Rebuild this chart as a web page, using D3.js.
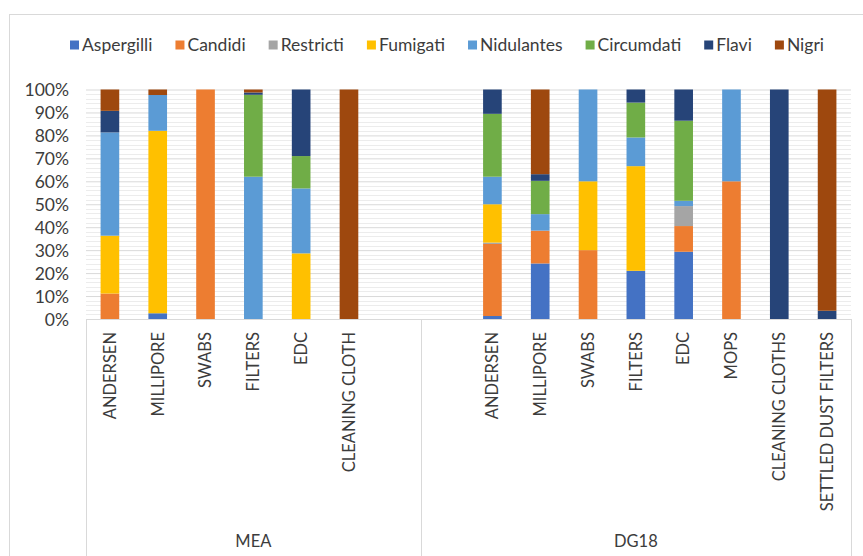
<html><head>
<script src="https://d3js.org/d3.v7.min.js"></script>
<style>
  body { margin: 0; background: #fff; }
  text { font-family: Lato, "Open Sans", sans-serif; fill: #3c3c3c; }
</style>
</head>
<body>
<svg id="chart" width="863" height="556"></svg>
<script>
// ---- data (percent of isolates per sampling method) ----
const groups = ["MEA", "DG18"];
const meaMethods = ["ANDERSEN", "MILLIPORE", "SWABS", "FILTERS", "EDC", "CLEANING CLOTH"];
const dg18Methods = ["ANDERSEN", "MILLIPORE", "SWABS", "FILTERS", "EDC", "MOPS", "CLEANING CLOTHS", "SETTLED DUST FILTERS"];
const sections = ["Aspergilli", "Candidi", "Restricti", "Fumigati", "Nidulantes", "Circumdati", "Flavi", "Nigri"];
const sectionColors = ["#4472C4", "#ED7D31", "#A5A5A5", "#FFC000", "#5B9BD5", "#70AD47", "#264478", "#9E480E"];
const yTicks = [0, 10, 20, 30, 40, 50, 60, 70, 80, 90, 100];

// one value per method: 6 MEA then 8 DG18
const aspergilli = [0, 2.5, 0, 0, 0, 0,      1.3, 24.2, 0, 21, 29.3, 0, 0, 0];
const candidi    = [11.1, 0, 100, 0, 0, 0,   31.4, 14.3, 30, 0, 11.2, 60, 0, 0];
const restricti  = [0, 0, 0, 0, 0, 0,        0.6, 0, 0, 0, 8.7, 0, 0, 0];
const fumigati   = [25.2, 79.5, 0, 0, 28.6, 0, 16.7, 0, 30, 45.6, 0, 0, 0, 0];
const nidulantes = [45, 15.6, 0, 62, 28.3, 0, 12, 7.2, 40, 12.5, 2.3, 40, 0, 0];
const circumdati = [0, 0, 0, 35.7, 14.1, 0,  27.4, 14.5, 0, 15.2, 34.9, 0, 0, 0];
const flavi      = [9.4, 0, 0, 1, 29, 0,     10.6, 2.9, 0, 5.7, 13.6, 0, 100, 3.6];
const nigri      = [9.3, 2.4, 0, 1.3, 0, 100, 0, 36.9, 0, 0, 0, 0, 0, 96.4];
const seriesValues = [aspergilli, candidi, restricti, fumigati, nidulantes, circumdati, flavi, nigri];

// Build rows; Excel leaves an empty slot at the end of MEA and start of DG18
const rows = [];
meaMethods.forEach((m, i) => rows.push({ key: "MEA|" + m, group: "MEA", method: m, idx: i }));
const dgOffset = meaMethods.length;
dg18Methods.forEach((m, i) => rows.push({ key: "DG18|" + m, group: "DG18", method: m, idx: dgOffset + i }));
rows.forEach(r => sections.forEach((s, j) => r[s] = seriesValues[j][r.idx]));

const domain = meaMethods.map(m => "MEA|" + m).concat(["MEA|_blank", "DG18|_blank"], dg18Methods.map(m => "DG18|" + m));

const svg = d3.select("#chart");
const margin = { top: 89.5, left: 86, right: 12, bottom: 237 };
const plotLeft = margin.left, plotRight = 863 - margin.right;
const plotTop = margin.top, plotBottom = 556 - margin.bottom;

// chart-area border
svg.append("rect").attr("x", 9.5).attr("y", 14.5).attr("width", 870).attr("height", 600)
   .attr("fill", "none").attr("stroke", "#d9d9d9");

const x = d3.scaleBand().domain(domain).range([plotLeft, plotRight]).paddingInner(0.61).paddingOuter(0.305);
const y = d3.scaleLinear().domain([0, 100]).range([plotBottom, plotTop]);
const color = d3.scaleOrdinal().domain(sections).range(sectionColors);

// minor gridlines
svg.append("g").selectAll("line").data(d3.range(0, 101, 2).filter(v => v % 10 !== 0))
  .join("line")
  .attr("x1", plotLeft).attr("x2", plotRight)
  .attr("y1", d => Math.round(y(d)) + 0.5).attr("y2", d => Math.round(y(d)) + 0.5)
  .attr("stroke", "#ececec");

// major gridlines + y labels via axis
const yAxis = d3.axisLeft(y).tickValues(yTicks).tickFormat(d => d + "%").tickSize(-(plotRight - plotLeft)).tickPadding(17);
const yg = svg.append("g").attr("transform", "translate(" + plotLeft + ",0)").call(yAxis);
yg.select(".domain").remove();
yg.selectAll(".tick line").attr("stroke", "#d9d9d9");
yg.selectAll(".tick text").style("font-size", "17.5px").style("fill", "#3c3c3c").attr("dy", "0.35em");

// stacked bars
const stacked = d3.stack().keys(sections)(rows);
svg.append("g").selectAll("g").data(stacked).join("g")
  .attr("fill", d => color(d.key))
  .selectAll("rect").data(d => d).join("rect")
  .attr("x", d => x(d.data.key))
  .attr("width", x.bandwidth())
  .attr("y", d => y(d[1]))
  .attr("height", d => y(d[0]) - y(d[1]));

// horizontal category axis line
svg.append("line").attr("x1", plotLeft).attr("x2", plotRight)
   .attr("y1", plotBottom + 0.5).attr("y2", plotBottom + 0.5).attr("stroke", "#d9d9d9");

// group separators (left edge, between groups, right edge)
const step = x.step();
const sepX = [plotLeft, plotLeft + step * (meaMethods.length + 1), plotRight];
svg.append("g").selectAll("line").data(sepX).join("line")
  .attr("x1", d => Math.round(d) + 0.5).attr("x2", d => Math.round(d) + 0.5)
  .attr("y1", plotBottom).attr("y2", 556)
  .attr("stroke", "#d9d9d9");

// rotated method labels
svg.append("g").selectAll("text").data(rows).join("text")
  .attr("transform", d => "translate(" + (x(d.key) + x.bandwidth() / 2) + "," + (plotBottom + 13) + ") rotate(-90)")
  .attr("text-anchor", "end")
  .attr("dy", "0.35em")
  .style("font-size", "16.5px")
  .text(d => d.method);

// group labels
svg.append("g").selectAll("text").data(groups).join("text")
  .attr("x", (d, i) => (sepX[i] + sepX[i + 1]) / 2)
  .attr("y", 541)
  .attr("text-anchor", "middle")
  .attr("dy", "0.35em")
  .style("font-size", "16.5px")
  .text(d => d);

// legend, spread across the top like Excel does
const legend = svg.append("g");
const items = legend.selectAll("g").data(sections).join("g");
items.append("rect").attr("width", 9).attr("height", 9).attr("y", -4.5).attr("fill", d => color(d));
items.append("text").attr("x", 12).attr("dy", "0.35em").style("font-size", "17.5px").text(d => d);
const widths = [];
items.each(function () { widths.push(this.getBBox().width); });
const legLeft = 70, legRight = 824;
const gap = (legRight - legLeft - d3.sum(widths)) / (sections.length - 1);
let cx = legLeft;
items.attr("transform", (d, i) => {
  const t = "translate(" + cx + ",45)";
  cx += widths[i] + gap;
  return t;
});
</script>
</body>
</html>
